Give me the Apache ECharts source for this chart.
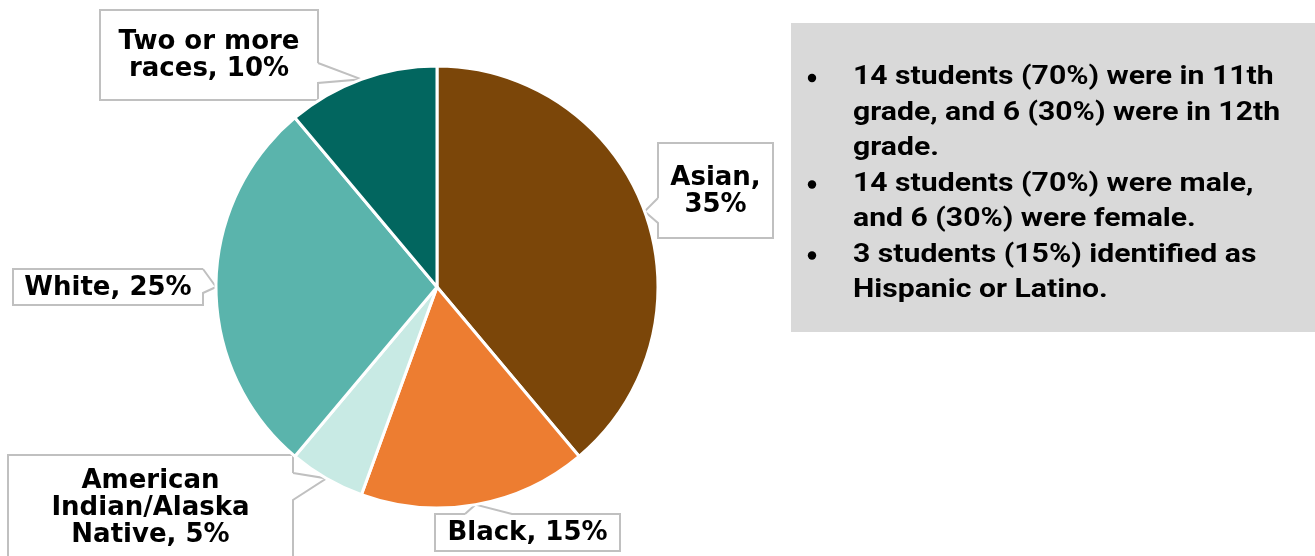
<!DOCTYPE html>
<html>
<head>
<meta charset="utf-8">
<script src="https://cdn.jsdelivr.net/npm/echarts@6/dist/echarts.min.js"></script>
<style>
  html, body { margin: 0; padding: 0; background: #ffffff; }
  #chart { width: 1315px; height: 556px; }
</style>
</head>
<body>
<div id="chart"></div>
<script>
// Race/ethnicity of participating students (slices run clockwise from 12 o'clock)
const categories = ['Asian', 'Black', 'American\nIndian/Alaska\nNative', 'White', 'Two or more\nraces'];
const shares = [35, 15, 5, 25, 10];
const sliceColors = ['#7b4609', '#ed7d31', '#c8eae4', '#5ab4ac', '#02665f'];

// Side panel notes
const notes = [
  '14 students (70%) were in 11th\ngrade, and 6 (30%) were in 12th\ngrade.',
  '14 students (70%) were male,\nand 6 (30%) were female.',
  '3 students (15%) identified as\nHispanic or Latino.'
];

// Callout boxes: [left, top, right, bottom], side with the pointer, pointer base span
const callouts = [
  { box: [658, 143, 773, 238], side: 'left',  span: [198, 223], sep: '\n' },
  { box: [435, 514, 620, 551], side: 'top',   span: [465, 512], sep: ' ' },
  { box: [8, 455, 293, 560],   side: 'right', span: [473, 500], sep: ' ' },
  { box: [13, 269, 203, 305],  side: 'right', span: [269, 293], sep: ' ' },
  { box: [100, 10, 318, 100],  side: 'right', span: [63, 83],   sep: ' ' }
];

// Outline of a callout box with its pointer notch, traced as one polyline
function calloutOutline(c, tip) {
  const [x0, y0, x1, y1] = c.box;
  const [n0, n1] = c.span;
  if (c.side === 'left') {
    return [[x0, n0], [x0, y0], [x1, y0], [x1, y1], [x0, y1], [x0, n1], tip, [x0, n0]];
  }
  if (c.side === 'top') {
    return [[n0, y0], [x0, y0], [x0, y1], [x1, y1], [x1, y0], [n1, y0], tip, [n0, y0]];
  }
  return [[x1, n0], [x1, y0], [x0, y0], [x0, y1], [x1, y1], [x1, n1], tip, [x1, n0]];
}

const chart = echarts.init(document.getElementById('chart'), null, { renderer: 'canvas' });

const LINE_H = 35.5;
const NOTE_FONT = 'Roboto, "Noto Sans", sans-serif';

// One bullet per note, placed on the first line of that note
const noteGraphics = [];
let lineIndex = 0;
notes.forEach(n => {
  noteGraphics.push({
    type: 'circle',
    shape: { cx: 812, cy: 78 + lineIndex * LINE_H, r: 4.2 },
    style: { fill: '#000000' },
    silent: true
  });
  lineIndex += n.split('\n').length;
});

chart.setOption({
  animation: false,
  backgroundColor: '#ffffff',
  graphic: [
    {
      type: 'rect',
      shape: { x: 791, y: 23, width: 524, height: 309 },
      style: { fill: '#d9d9d9' },
      silent: true
    }
  ].concat(noteGraphics, [
    {
      type: 'text',
      x: 853, y: 60,
      scaleX: 1.16,
      style: {
        text: notes.join('\n'),
        fill: '#000000',
        font: 'bold 26px ' + NOTE_FONT,
        lineHeight: LINE_H,
        align: 'left',
        verticalAlign: 'top'
      },
      silent: true
    }
  ]),
  series: [{
    type: 'pie',
    center: [437, 287],
    radius: 221,
    startAngle: 90,
    clockwise: true,
    avoidLabelOverlap: false,
    silent: true,
    emphasis: { disabled: true },
    itemStyle: { borderColor: '#ffffff', borderWidth: 3 },
    label: {
      show: true,
      position: 'outside',
      color: '#000000',
      fontFamily: '"DejaVu Sans", sans-serif',
      fontWeight: 'bold',
      fontSize: 26,
      lineHeight: 27,
      align: 'center',
      formatter: p => p.name + ',' + callouts[p.dataIndex].sep + p.value + '%'
    },
    labelLine: {
      show: true,
      smooth: false,
      length: 8,
      length2: 8,
      lineStyle: { color: '#c0c0c0', width: 2 }
    },
    labelLayout: params => {
      const c = callouts[params.dataIndex];
      const tip = params.labelLinePoints ? params.labelLinePoints[0] : [0, 0];
      return {
        x: (c.box[0] + c.box[2]) / 2,
        y: (c.box[1] + c.box[3]) / 2 + 1,
        align: 'center',
        verticalAlign: 'middle',
        hideOverlap: false,
        labelLinePoints: calloutOutline(c, tip)
      };
    },
    data: categories.map((name, i) => ({
      name: name,
      value: shares[i],
      itemStyle: { color: sliceColors[i] }
    }))
  }]
});
</script>
</body>
</html>
